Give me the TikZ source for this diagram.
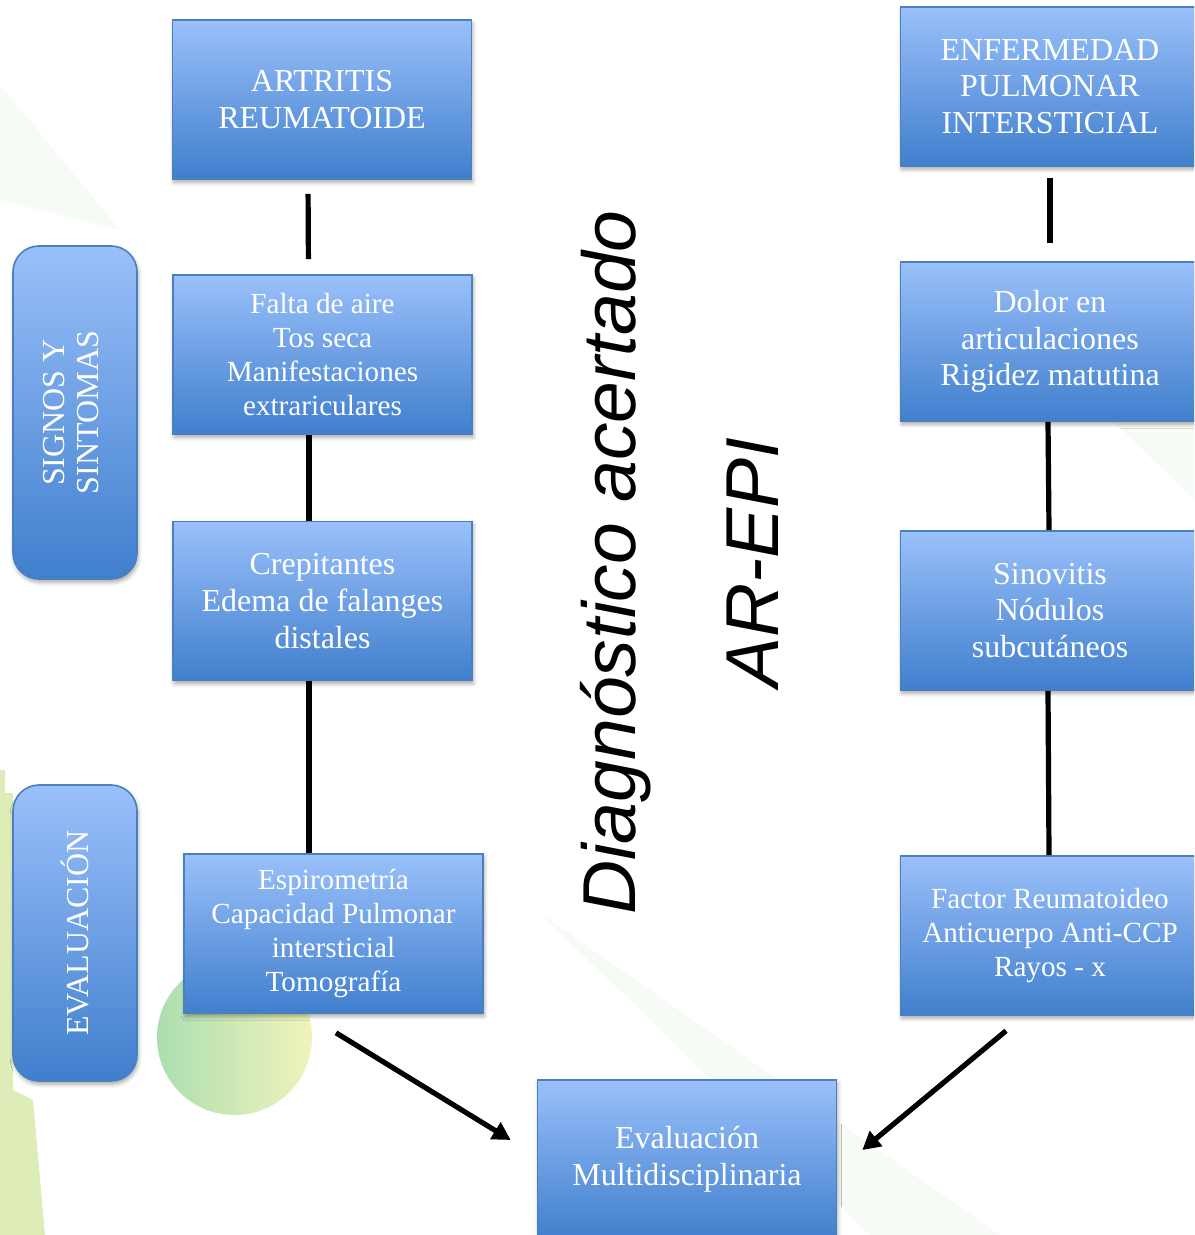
\documentclass[tikz,border=0pt]{standalone}
\usepackage{fontspec}
\usepackage{graphicx}
\setmainfont{Liberation Serif}
\newfontfamily\headfont{Liberation Sans}
\usetikzlibrary{arrows.meta,shadows.blur}

\definecolor{boxtop}{RGB}{154,192,250}
\definecolor{boxbot}{RGB}{64,127,205}
\definecolor{boxline}{RGB}{76,127,190}
\definecolor{limepale}{RGB}{222,236,184}
\definecolor{mintpale}{RGB}{172,222,176}
\definecolor{creampale}{RGB}{241,243,187}
\definecolor{greenfaint}{RGB}{246,251,245}

\newcommand\bigtxt{\fontsize{16}{18.4}\selectfont}
\newcommand\smalltxt{\fontsize{14.6}{17}\selectfont}
\newcommand\diagtxt{\headfont\itshape\fontsize{37.5}{45}\selectfont}

\tikzset{
  flowbox/.style={draw=boxline, line width=0.8pt, top color=boxtop, bottom color=boxbot,
    text=white, align=center, inner sep=0pt, font=\bigtxt,
    minimum width=149.5pt, minimum height=79.5pt,
    blur shadow={shadow xshift=0.6pt, shadow yshift=-1.6pt, shadow blur radius=2pt, shadow opacity=35}},
  sidebox/.style={flowbox, rounded corners=13pt, minimum width=62pt},
  link/.style={line width=2.6pt},
  flowarrow/.style={line width=2.6pt, -{Triangle[length=9pt,width=9.5pt]}},
}

\begin{document}
\begin{tikzpicture}[x=0.5pt, y=-0.5pt]
\useasboundingbox (0,0) rectangle (1194,1235);
\clip (0,0) rectangle (1194,1235);

% Background decoration
\fill[greenfaint] (0,85) -- (120,230) -- (0,200) -- cycle;
\fill[greenfaint] (1113,421) -- (1194,421) -- (1194,500) -- cycle;
\fill[greenfaint] (540,913) -- (1000,1235) -- (870,1235) -- cycle;
\fill[limepale] (0,770) -- (5,770) -- (5,793) -- (13,793) -- (13,1090)
  -- (33,1100) -- (45,1235) -- (0,1235) -- cycle;
\shade[left color=mintpale, right color=creampale] (234.5,1037.5) circle[radius=38.75pt];

% Left column
\node[flowbox] (art) at (322,99.5) {ARTRITIS\\REUMATOIDE};
\node[flowbox, font=\smalltxt] (falta) at (322.5,354.5)
  {Falta de aire\\Tos seca\\Manifestaciones\\extrariculares};
\node[flowbox] (crep) at (322.5,601) {Crepitantes\\Edema de falanges\\distales};
\node[flowbox, font=\smalltxt] (espiro) at (333.5,933.5)
  {Espirometría\\Capacidad Pulmonar\\intersticial\\Tomografía};

% Right column
\node[flowbox] (enf) at (1050,86.5) {ENFERMEDAD\\PULMONAR\\INTERSTICIAL};
\node[flowbox] (dolor) at (1050,341.5) {Dolor en\\articulaciones\\Rigidez matutina};
\node[flowbox] (sino) at (1050,610.5) {Sinovitis\\Nódulos\\subcutáneos};
\node[flowbox, font=\smalltxt] (factor) at (1050,935.5)
  {Factor Reumatoideo\\Anticuerpo Anti-CCP\\Rayos - x};

% Bottom
\node[flowbox] (multi) at (687,1159.5) {Evaluación\\Multidisciplinaria};

% Side labels
\node[sidebox, minimum height=166.5pt] (signos) at (75,412.5)
  {\rotatebox{90}{\def\arraystretch{0.93}\begin{tabular}{@{}c@{}}SIGNOS Y\\SINTOMAS\end{tabular}}};
\node[sidebox, minimum height=148pt] (evalua) at (75,933) {\rotatebox{90}{EVALUACIÓN}};

% Title
\node[font=\diagtxt, rotate=90, anchor=base] (diag) at (635,562.5) {Diagnóstico acertado};
\node[font=\diagtxt, rotate=90, anchor=base] (arepi) at (778,562.5) {AR-EPI};

% Links
\draw[link, shorten <=7pt, shorten >=7.5pt] ([xshift=-7pt]art.south) -- ([xshift=-7pt]falta.north);
\draw[link] ([xshift=-6.75pt]falta.south) -- ([xshift=-6.75pt]crep.north);
\draw[link] ([xshift=-6.75pt]crep.south) -- ([xshift=-6.75pt]crep.south |- espiro.north);
\draw[link, shorten <=5.5pt, shorten >=9pt] (enf.south) -- (dolor.north);
\foreach \a/\b in {dolor/sino, sino/factor} {
  \draw[link] ([xshift=-1pt]\a.south) -- ([xshift=-0.5pt]\b.north);
}

% Arrows
\draw[flowarrow] ([xshift=1.25pt, yshift=-9.5pt]espiro.south) -- ([xshift=-13pt, yshift=9.75pt]multi.west);
\draw[flowarrow] ([xshift=-22pt, yshift=-7.5pt]factor.south) -- ([xshift=12.5pt, yshift=4.75pt]multi.east);
\end{tikzpicture}
\end{document}
